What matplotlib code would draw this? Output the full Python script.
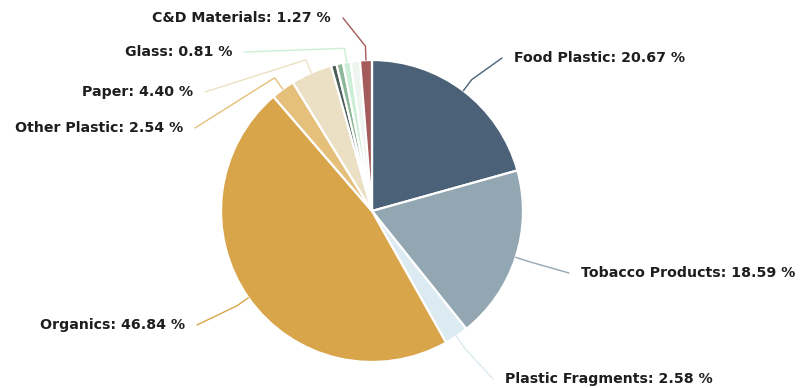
import numpy as np
import matplotlib.pyplot as plt

# Litter composition (percent), clockwise from 12 o'clock
names = ['Food Plastic', 'Tobacco Products', 'Plastic Fragments', 'Organics',
         'Other Plastic', 'Paper', '', '', 'Glass', '', 'C&D Materials']
values = [20.67, 18.59, 2.58, 46.84, 2.54, 4.40, 0.60, 0.70, 0.81, 1.00, 1.27]
colors = ['#4a6177', '#93a7b3', '#dcebf1', '#d9a54b', '#e5c07b', '#ebe0c3',
          '#4f5f5a', '#8db796', '#cdeed6', '#eef4ef', '#a45b5b']

# label text anchor (pixel coords, y from top) and alignment
label_pos = {
    'Food Plastic': (514, 58, 'left'),
    'Tobacco Products': (581, 273, 'left'),
    'Plastic Fragments': (505, 379, 'left'),
    'Organics': (185, 325, 'right'),
    'Other Plastic': (183, 128, 'right'),
    'Paper': (193, 92, 'right'),
    'Glass': (232, 52, 'right'),
    'C&D Materials': (331, 18, 'right'),
}

W, H = 805, 388
cx, cy, r = 372, H - 211, 151

fig = plt.figure(figsize=(W / 100, H / 100), dpi=100)
ax = fig.add_axes([0, 0, 1, 1])
wedges, _ = ax.pie(values, colors=colors, startangle=90, counterclock=False,
                   center=(cx, cy), radius=r,
                   wedgeprops=dict(edgecolor='white', linewidth=1.6))
ax.set_xlim(0, W)
ax.set_ylim(0, H)
ax.set_aspect('equal')
ax.axis('off')

for w, name, val, col in zip(wedges, names, values, colors):
    if not name:
        continue
    tx, ty, ha = label_pos[name]
    ty = H - ty
    ang = np.deg2rad((w.theta1 + w.theta2) / 2)
    x0, y0 = cx + r * np.cos(ang), cy + r * np.sin(ang)
    x1, y1 = cx + (r + 14) * np.cos(ang), cy + (r + 14) * np.sin(ang)
    x2 = tx - 12 if ha == 'left' else tx + 12
    ax.plot([x0, x1, x2], [y0, y1, ty], color=col, lw=1, solid_capstyle='round')
    ax.text(tx, ty, f'{name}: {val:.2f} %', ha=ha, va='center',
            fontsize=10.2, fontweight='bold', color='#1e1e1e')

fig.savefig('out.png', dpi=100)
